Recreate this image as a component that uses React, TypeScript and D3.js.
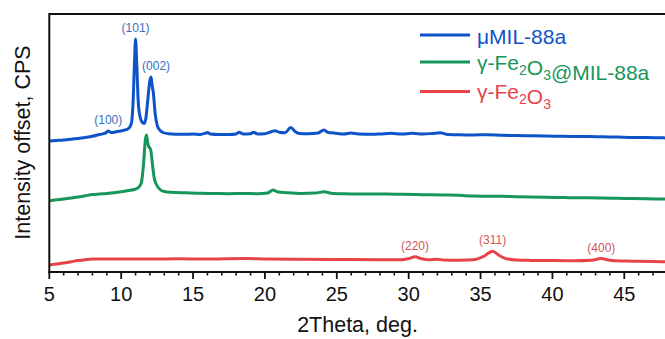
import React from "react";
import * as d3 from "d3";

// XRD patterns, 2θ (deg) and stacked intensity (CPS, with offsets)
const milTheta = [5.0, 5.5, 6.0, 6.5, 7.0, 7.5, 8.0, 8.5, 8.9, 9.1, 9.3, 9.7, 10.2, 10.5, 10.7, 10.82, 10.92, 11.0, 11.08, 11.18, 11.3, 11.45, 11.6, 11.72, 11.85, 11.98, 12.08, 12.16, 12.24, 12.36, 12.5, 12.65, 12.9, 13.3, 13.8, 14.5, 15.0, 15.5, 15.9, 16.0, 16.2, 16.8, 17.5, 18.0, 18.2, 18.5, 19.0, 19.2, 19.5, 20.0, 20.4, 20.7, 21.0, 21.4, 21.8, 22.1, 22.4, 23.0, 23.7, 24.1, 24.4, 24.8, 25.5, 26.0, 26.5, 27.5, 28.0, 28.8, 29.5, 30.26, 31.0, 31.6, 32.2, 32.6, 33.5, 34.5, 35.5, 36.5, 37.5, 38.5, 39.5, 40.5, 41.5, 42.5, 43.5, 44.5, 45.5, 46.5, 47.5, 48.5, 50.0];
const milCounts = [1310, 1315, 1320, 1327, 1335, 1345, 1357, 1375, 1388, 1410, 1394, 1404, 1418, 1434, 1480, 1670, 2070, 2330, 2100, 1720, 1560, 1500, 1485, 1540, 1720, 1900, 1950, 1860, 1790, 1590, 1470, 1425, 1395, 1382, 1378, 1377, 1380, 1375, 1390, 1395, 1380, 1375, 1375, 1380, 1397, 1380, 1382, 1397, 1380, 1382, 1400, 1413, 1397, 1392, 1445, 1405, 1385, 1382, 1390, 1420, 1395, 1390, 1380, 1390, 1380, 1377, 1380, 1387, 1380, 1387, 1380, 1385, 1393, 1378, 1372, 1370, 1373, 1367, 1365, 1362, 1360, 1357, 1355, 1355, 1352, 1350, 1346, 1345, 1342, 1340, 1340];

const compositeTheta = [5.0, 5.5, 6.0, 6.5, 7.0, 7.5, 8.0, 8.5, 9.0, 9.5, 10.0, 10.5, 10.9, 11.2, 11.4, 11.55, 11.68, 11.76, 11.84, 11.92, 12.0, 12.08, 12.18, 12.3, 12.47, 12.7, 13.0, 13.5, 14.5, 15.5, 16.5, 17.5, 18.5, 19.5, 20.2, 20.56, 20.9, 21.5, 22.5, 23.5, 24.14, 24.6, 25.5, 26.5, 27.5, 28.5, 29.5, 30.5, 31.5, 32.5, 33.5, 34.5, 35.5, 36.5, 37.5, 38.5, 39.5, 40.5, 41.5, 42.5, 43.5, 44.5, 45.5, 46.5, 47.5, 50.0];
const compositeCounts = [713, 722, 730, 740, 750, 762, 774, 780, 785, 792, 802, 815, 825, 845, 890, 1070, 1320, 1370, 1300, 1250, 1240, 1200, 1070, 940, 870, 825, 805, 797, 792, 787, 785, 783, 785, 783, 790, 820, 800, 793, 786, 790, 803, 788, 782, 780, 780, 780, 777, 775, 772, 770, 767, 760, 758, 757, 753, 750, 748, 745, 742, 742, 740, 737, 734, 732, 730, 728];

const maghemiteTheta = [5.0, 5.5, 6.0, 6.5, 7.0, 7.5, 8.0, 9.0, 10.0, 12.0, 14.0, 16.0, 18.7, 20.0, 22.0, 25.0, 28.0, 29.5, 30.0, 30.44, 30.9, 31.4, 32.0, 32.4, 33.5, 34.5, 35.2, 35.84, 36.3, 36.8, 37.5, 38.5, 40.0, 41.5, 42.7, 43.4, 44.0, 45.0, 46.0, 47.0, 48.0, 50.0];
const maghemiteCounts = [70, 80, 90, 102, 114, 123, 129, 130, 131, 130, 132, 130, 134, 130, 128, 125, 122, 122, 134, 152, 132, 122, 128, 120, 118, 122, 155, 208, 165, 132, 120, 116, 114, 112, 117, 134, 118, 110, 107, 104, 103, 102];

const seriesNames = ["μMIL-88a", "γ-Fe₂O₃@MIL-88a", "γ-Fe₂O₃"];
const seriesColors = ["#0f53c9", "#17965a", "#e8434b"];
const labelColors = ["#3c6dc2", "#2a9a68", "#d2545a"];

// Miller indices marked on the patterns: series index, label, 2θ of peak
const peakSeries = [0, 0, 0, 2, 2, 2];
const peakLabels = ["(100)", "(101)", "(002)", "(220)", "(311)", "(400)"];
const peakTheta = [9.1, 11.0, 12.08, 30.44, 35.84, 43.4];

const xTicks = [5, 10, 15, 20, 25, 30, 35, 40, 45];

const W = 665;
const H = 339;
const left = 49.3;
const top = 14;
const bottom = 272;

const FONT = "'Liberation Sans', Arial, Helvetica, sans-serif";

function Sub({ text }: { text: string }) {
  // render ₂/₃ as real subscripts
  const parts: React.ReactNode[] = [];
  let buf = "";
  let key = 0;
  for (const ch of text) {
    if (ch === "₂" || ch === "₃") {
      if (buf) parts.push(<tspan key={key++}>{buf}</tspan>);
      buf = "";
      parts.push(
        <tspan key={key++} fontSize="14" dy="5">{ch === "₂" ? "2" : "3"}</tspan>
      );
      parts.push(<tspan key={key++} dy="-5">{""}</tspan>);
    } else {
      buf += ch;
    }
  }
  if (buf) parts.push(<tspan key={key++}>{buf}</tspan>);
  return <>{parts}</>;
}

export default function App() {
  const x = d3.scaleLinear().domain([5, 50]).range([left, left + 45 * 14.375]);
  const y = d3.scaleLinear().domain([0, 2580]).range([bottom, top]);

  const thetas = [milTheta, compositeTheta, maghemiteTheta];
  const counts = [milCounts, compositeCounts, maghemiteCounts];

  const line = d3
    .line<[number, number]>()
    .x((d) => x(d[0]))
    .y((d) => y(d[1]))
    .curve(d3.curveMonotoneX);

  const paths = thetas.map((t, i) =>
    line(t.map((v, j) => [v, counts[i][j]] as [number, number]))
  );

  const minorTicks = d3.range(5, 51, 1).filter((v) => v % 5 !== 0);

  const legendY = [35, 62, 91.5];
  const legendTextY = [43.5, 70, 99];

  return (
    <svg
      width={W}
      height={H}
      style={{ position: "absolute", left: 0, top: 0, background: "#fff" }}
      fontFamily={FONT}
    >
      <defs>
        <clipPath id="plot">
          <rect x={left} y={top} width={x(50) - left} height={bottom - top} />
        </clipPath>
      </defs>

      {/* patterns */}
      <g clipPath="url(#plot)">
        {paths.map((p, i) => (
          <path
            key={i}
            d={p || ""}
            fill="none"
            stroke={seriesColors[i]}
            strokeWidth={3}
            strokeLinejoin="round"
          />
        ))}
      </g>

      {/* peak indices */}
      {peakLabels.map((lab, i) => {
        const s = peakSeries[i];
        const j = thetas[s].indexOf(peakTheta[i]);
        const px = x(peakTheta[i]) + (lab === "(002)" ? 5 : 0);
        const py = y(counts[s][j]) - 7;
        return (
          <text
            key={lab}
            x={px}
            y={py}
            textAnchor="middle"
            fontSize="12"
            fill={labelColors[s]}
          >
            {lab}
          </text>
        );
      })}

      {/* frame */}
      <line x1={left} x2={x(50) + 1} y1={top} y2={top} stroke="#111" strokeWidth={2} />
      <line x1={left} x2={left} y1={top - 1} y2={bottom + 1} stroke="#111" strokeWidth={2} />
      <line x1={left - 1} x2={x(50) + 1} y1={bottom} y2={bottom} stroke="#111" strokeWidth={2} />

      {/* x ticks */}
      {minorTicks.map((v) => (
        <line key={"m" + v} x1={x(v)} x2={x(v)} y1={bottom} y2={bottom + 3.5} stroke="#111" strokeWidth={1.6} />
      ))}
      {xTicks.map((v) => (
        <g key={v}>
          <line x1={x(v)} x2={x(v)} y1={bottom} y2={bottom + 7} stroke="#111" strokeWidth={1.8} />
          <text x={x(v)} y={301} textAnchor="middle" fontSize="20" fill="#111">
            {v}
          </text>
        </g>
      ))}

      {/* axis titles */}
      <text x={357.5} y={332} textAnchor="middle" fontSize="21.5" fill="#111">
        2Theta, deg.
      </text>
      <text
        transform={`translate(30,142.5) rotate(-90)`}
        textAnchor="middle"
        fontSize="21.5"
        fill="#111"
      >
        Intensity offset, CPS
      </text>

      {/* legend */}
      {seriesNames.map((name, i) => (
        <g key={name}>
          <line x1={420} x2={470} y1={legendY[i]} y2={legendY[i]} stroke={seriesColors[i]} strokeWidth={3} />
          <text x={477} y={legendTextY[i]} fontSize="21" fill={seriesColors[i]}>
            <Sub text={name} />
          </text>
        </g>
      ))}
    </svg>
  );
}
